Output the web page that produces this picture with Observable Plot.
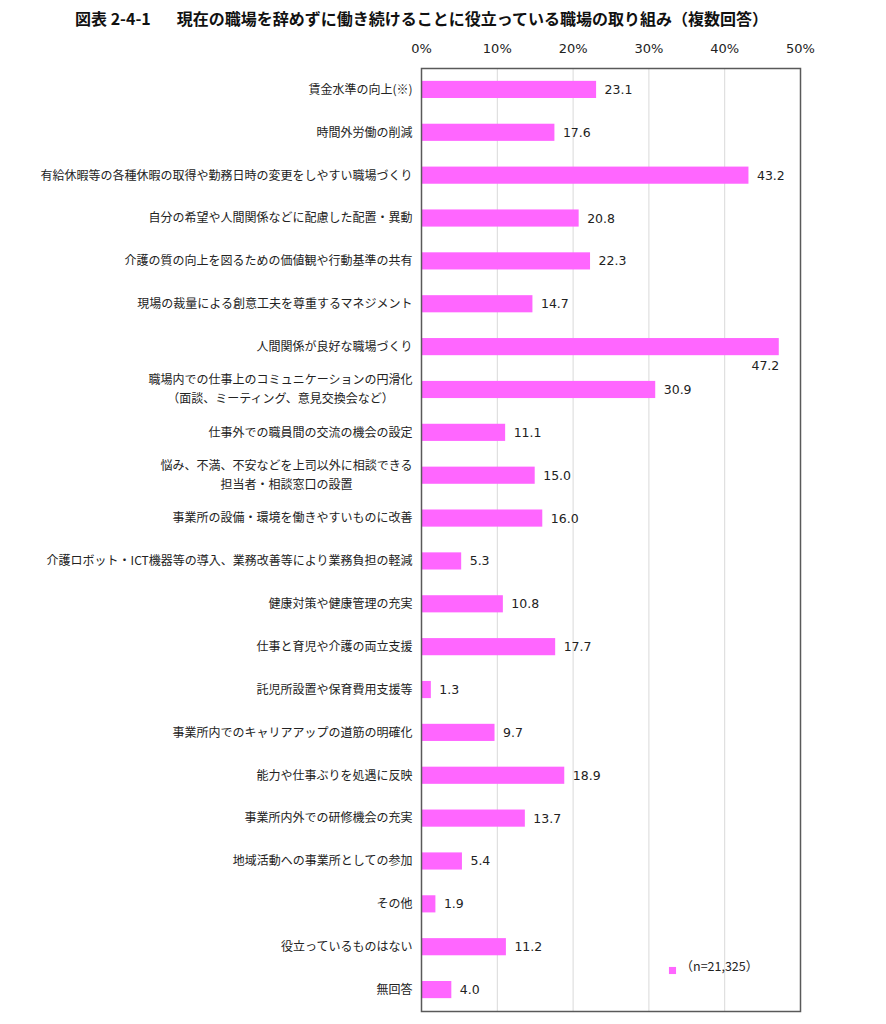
<!DOCTYPE html>
<html><head><meta charset="utf-8">
<script src="https://cdn.jsdelivr.net/npm/d3@7"></script>
<script src="https://cdn.jsdelivr.net/npm/@observablehq/plot@0.6"></script>
<style>
body{margin:0;background:#fff;}
#title{height:36px;line-height:36px;font-family:"Noto Sans CJK JP";font-weight:bold;font-size:16px;color:#111;white-space:pre;padding-left:75px;}
#title span.m{margin-left:26px;}
</style></head><body>
<div id="title"><span>図表 2-4-1</span><span class="m">現在の職場を辞めずに働き続けることに役立っている職場の取り組み（複数回答）</span></div>
<div id="chart"></div>
<script>
const categories = [
  "賃金水準の向上(※)",
  "時間外労働の削減",
  "有給休暇等の各種休暇の取得や勤務日時の変更をしやすい職場づくり",
  "自分の希望や人間関係などに配慮した配置・異動",
  "介護の質の向上を図るための価値観や行動基準の共有",
  "現場の裁量による創意工夫を尊重するマネジメント",
  "人間関係が良好な職場づくり",
  "職場内での仕事上のコミュニケーションの円滑化\n（面談、ミーティング、意見交換会など）",
  "仕事外での職員間の交流の機会の設定",
  "悩み、不満、不安などを上司以外に相談できる\n担当者・相談窓口の設置",
  "事業所の設備・環境を働きやすいものに改善",
  "介護ロボット・ICT機器等の導入、業務改善等により業務負担の軽減",
  "健康対策や健康管理の充実",
  "仕事と育児や介護の両立支援",
  "託児所設置や保育費用支援等",
  "事業所内でのキャリアアップの道筋の明確化",
  "能力や仕事ぶりを処遇に反映",
  "事業所内外での研修機会の充実",
  "地域活動への事業所としての参加",
  "その他",
  "役立っているものはない",
  "無回答"
];
const values = [23.1, 17.6, 43.2, 20.8, 22.3, 14.7, 47.2, 30.9, 11.1, 15.0, 16.0, 5.3, 10.8, 17.7, 1.3, 9.7, 18.9, 13.7, 5.4, 1.9, 11.2, 4.0];
const tickValues = [0, 10, 20, 30, 40, 50];
const legendLabel = "（n=21,325）";

const data = categories.map((c, i) => ({label: c, value: values[i]}));

const labelFont = '12px "Noto Sans CJK JP"';
const ctx = document.createElement("canvas").getContext("2d");
ctx.font = labelFont;

const singleLines = data.filter(d => !d.label.includes("\n"));
const multiRows = [];
data.filter(d => d.label.includes("\n")).forEach(d => {
  const lines = d.label.split("\n");
  const w = Math.max(...lines.map(l => ctx.measureText(l).width));
  lines.forEach((l, i) => multiRows.push({label: d.label, text: l, line: i, n: lines.length, w}));
});

const pink = "#ff66ff";
const numFont = "DejaVu Sans";
const txt = "#222";

const marks = [
  Plot.gridX(tickValues.slice(1, -1), {stroke: "#d9d9d9", strokeOpacity: 1, strokeWidth: 1}),
  Plot.barX(data, {x: "value", y: "label", fill: pink}),
  Plot.text(data.filter(d => d.value <= 45), {x: "value", y: "label", text: d => d.value.toFixed(1), textAnchor: "start", dx: 8, fontSize: 12.5, fontFamily: numFont, fill: txt}),
  Plot.text(data.filter(d => d.value > 45), {x: "value", y: "label", text: d => d.value.toFixed(1), textAnchor: "end", dy: 19, fontSize: 12.5, fontFamily: numFont, fill: txt}),
  Plot.text(singleLines, {x: 0, y: "label", text: "label", textAnchor: "end", dx: -9, fontSize: 12, fontFamily: "Noto Sans CJK JP", fill: txt}),
  ...multiRows.map(r => Plot.text([r], {x: 0, y: "label", text: "text", textAnchor: "middle", dx: -9 - r.w / 2, dy: (r.line - (r.n - 1) / 2) * 19, fontSize: 12, fontFamily: "Noto Sans CJK JP", fill: txt})),
  Plot.axisX({anchor: "top", ticks: tickValues, tickSize: 0, tickPadding: 16, tickFormat: d => d + "%", fontSize: 13, fontFamily: numFont, color: txt, label: null}),
  Plot.dot([legendLabel], {frameAnchor: "bottom-right", dx: -128, dy: -41, symbol: "square", r: 4, fill: pink, stroke: "none"}),
  Plot.text([legendLabel], {frameAnchor: "bottom-right", text: d => d, dx: -120, dy: -41, textAnchor: "start", fontSize: 12.5, fontFamily: "Noto Sans CJK JP", fill: txt}),
  Plot.frame({stroke: "#595959", strokeWidth: 1.5})
];

const chart = Plot.plot({
  width: 886,
  height: 988,
  marginLeft: 421,
  marginRight: 86,
  marginTop: 32,
  marginBottom: 13,
  style: {background: "#fff", overflow: "visible"},
  x: {domain: [0, 50], axis: null},
  y: {type: "band", domain: categories, paddingInner: 0.6, paddingOuter: 0.3, round: false, axis: null},
  marks
});
document.getElementById("chart").appendChild(chart);
</script>
</body></html>
